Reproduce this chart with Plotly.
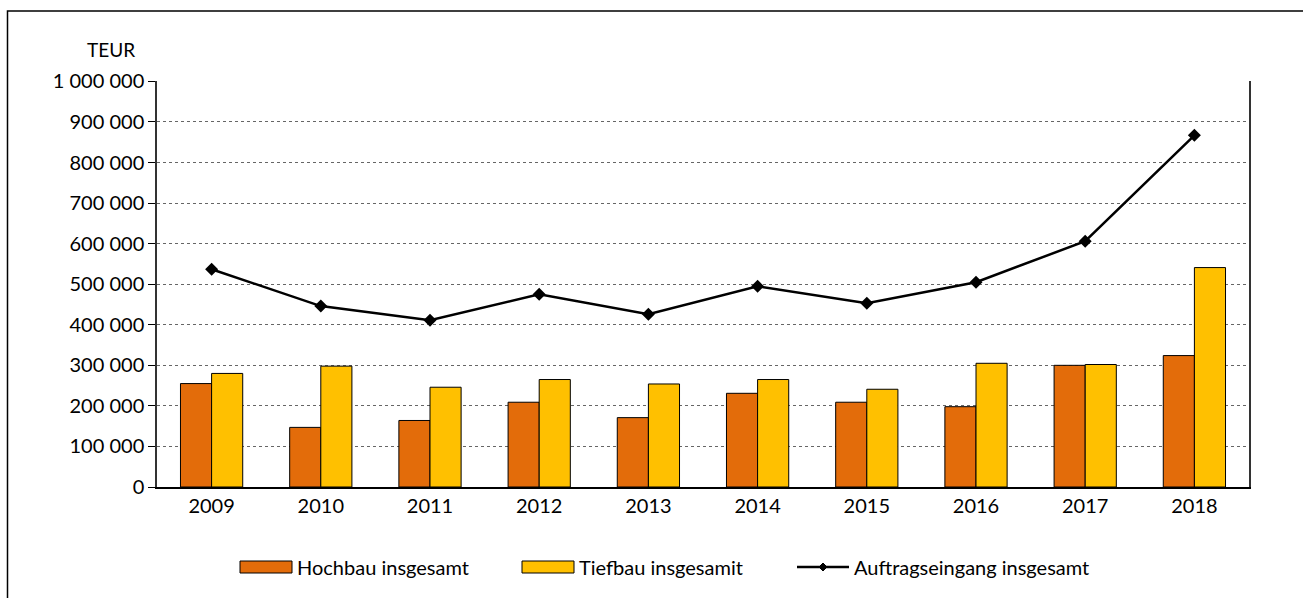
import plotly.graph_objects as go

years = ['2009', '2010', '2011', '2012', '2013', '2014', '2015', '2016', '2017', '2018']
hochbau = [255000, 147000, 164000, 209000, 171000, 231000, 209000, 198000, 300000, 324000]
tiefbau = [280000, 298000, 246000, 265000, 254000, 265000, 241000, 305000, 302000, 541000]
auftrag = [537000, 446000, 411000, 475000, 426000, 495000, 453000, 505000, 606000, 867000]

names = ['Hochbau insgesamt', 'Tiefbau insgesamit', 'Auftragseingang insgesamt']
colors = ['#E36C0A', '#FFC000', 'black']

font_name = 'Lato'
fsize = 20

# plot area in pixels
PL, PR, PT, PB = 157, 1249, 81, 487
W, H = 1303, 598


def px(x):
    return (x - PL) / (PR - PL)


def py(y):
    return (PB - y) / (PB - PT)


fig = go.Figure()

fig.add_trace(go.Bar(x=years, y=hochbau, name=names[0],
                     marker=dict(color=colors[0], line=dict(color='black', width=1))))
fig.add_trace(go.Bar(x=years, y=tiefbau, name=names[1],
                     marker=dict(color=colors[1], line=dict(color='black', width=1))))
fig.add_trace(go.Scatter(x=years, y=auftrag, name=names[2],
                         mode='lines+markers',
                         line=dict(color='black', width=2.5),
                         marker=dict(symbol='diamond', size=10, color='black')))

fig.update_layout(
    width=W, height=H,
    margin=dict(l=PL, r=W - PR, t=PT, b=H - PB),
    paper_bgcolor='white', plot_bgcolor='white',
    font=dict(family=font_name, size=fsize, color='black'),
    separators=', ',
    barmode='group', bargap=0.43, bargroupgap=0,
    showlegend=False,
    xaxis=dict(showline=True, linecolor='black', linewidth=1.5, ticks='',
               showgrid=False, range=[-0.5, 9.5]),
    yaxis=dict(range=[0, 1001000], tickvals=[i * 100000 for i in range(11)],
               tickformat=',d',
               showline=True, linecolor='#333', linewidth=1.5, mirror=True,
               ticks='outside', ticklen=7, tickcolor='black',
               showgrid=True, gridcolor='#666', griddash='dot', gridwidth=1,
               zeroline=False),
)

fig.add_annotation(text='TEUR', x=px(111), y=py(50), xref='paper', yref='paper',
                   showarrow=False, xanchor='center', yanchor='middle',
                   font=dict(size=19))

# outer chart frame (runs off the right/bottom of the picture)
fig.add_shape(type='rect', xref='paper', yref='paper',
              x0=px(7.5), x1=px(1330), y0=py(640), y1=py(11),
              line=dict(color='black', width=1.5), layer='below')

# custom legend: wide swatches like the original
leg_y = 567
swatch_x = [240, 522, 797]
for i, name in enumerate(names):
    x0 = swatch_x[i]
    if i < 2:
        fig.add_shape(type='rect', xref='paper', yref='paper',
                      x0=px(x0), x1=px(x0 + 52), y0=py(leg_y + 6), y1=py(leg_y - 6),
                      fillcolor=colors[i], line=dict(color='black', width=1))
    else:
        fig.add_shape(type='line', xref='paper', yref='paper',
                      x0=px(x0), x1=px(x0 + 52), y0=py(leg_y), y1=py(leg_y),
                      line=dict(color='black', width=2.5))
        cx, cy, d = x0 + 26, leg_y, 4
        fig.add_shape(type='path', xref='paper', yref='paper',
                      path=f'M {px(cx - d)},{py(cy)} L {px(cx)},{py(cy - d)} '
                           f'L {px(cx + d)},{py(cy)} L {px(cx)},{py(cy + d)} Z',
                      fillcolor='black', line=dict(color='black', width=1))
    fig.add_annotation(text=name, x=px(x0 + 55), y=py(leg_y), xref='paper', yref='paper',
                       showarrow=False, xanchor='left', yanchor='middle')

fig.write_html('out.html', config={'displayModeBar': False},
               post_script="document.body.style.margin='0';")
